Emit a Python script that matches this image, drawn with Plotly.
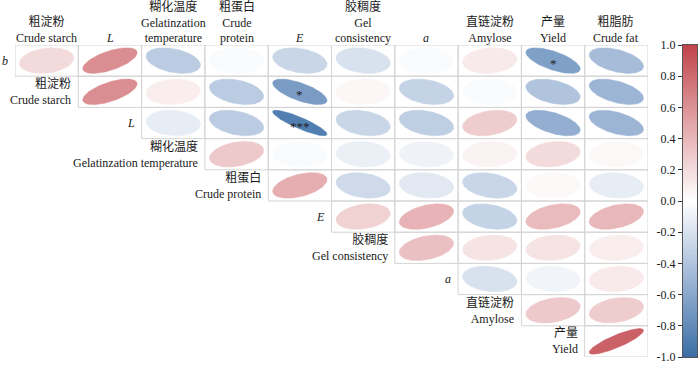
import numpy as np
import plotly.graph_objects as go
from plotly.colors import sample_colorscale

# ---------------- data ----------------
col_labels = ["粗淀粉<br>Crude starch", "<i>L</i>", "糊化温度<br>Gelatinzation<br>temperature",
              "粗蛋白<br>Crude<br>protein", "<i>E</i>", "胶稠度<br>Gel<br>consistency",
              "<i>a</i>", "直链淀粉<br>Amylose", "产量<br>Yield", "粗脂肪<br>Crude fat"]
row_labels = ["<i>b</i>", "粗淀粉<br>Crude starch", "<i>L</i>", "糊化温度<br>Gelatinzation temperature",
              "粗蛋白<br>Crude protein", "<i>E</i>", "胶稠度<br>Gel consistency", "<i>a</i>",
              "直链淀粉<br>Amylose", "产量<br>Yield"]

corr_b = [0.20, 0.62, -0.35, -0.03, -0.28, -0.20, -0.03, 0.12, -0.65, -0.45]
corr_starch = [0.62, 0.10, -0.35, -0.68, 0.05, -0.30, -0.03, -0.40, -0.50]
corr_L = [-0.12, -0.35, -0.88, -0.28, -0.33, 0.28, -0.55, -0.50]
corr_gel_temp = [0.30, -0.03, -0.10, -0.08, 0.07, 0.20, 0.04]
corr_protein = [0.45, -0.25, -0.15, -0.28, 0.04, -0.12]
corr_E = [0.25, 0.42, -0.30, 0.38, 0.40]
corr_gc = [0.35, 0.15, 0.15, 0.10]
corr_a = [-0.20, -0.07, 0.12]
corr_amylose = [0.30, 0.28]
corr_yield = [0.85]
corr_rows = [corr_b, corr_starch, corr_L, corr_gel_temp, corr_protein,
             corr_E, corr_gc, corr_a, corr_amylose, corr_yield]

sig_rows = [0, 1, 2]
sig_cols = [8, 4, 4]
sig_marks = ["*", "*", "***"]

cbar_ticks = [1.0, 0.8, 0.6, 0.4, 0.2, 0.0, -0.2, -0.4, -0.6, -0.8, -1.0]

# ---------------- style ----------------
colorscale = [[0.0, "#3a6ea5"], [0.25, "#9db5d5"], [0.5, "#ffffff"],
              [0.75, "#e2a5a8"], [1.0, "#c0444b"]]
FONT = "Liberation Serif, Times New Roman, Noto Sans CJK SC, serif"
TXT = "#1a1a1a"
SX, SY = 0.43, 0.41

fig = go.Figure()
shapes = []
t = np.linspace(0, 2 * np.pi, 120)
for i, row in enumerate(corr_rows):
    for k, r in enumerate(row):
        j = i + k
        shapes.append(dict(type="rect", xref="x", yref="y", x0=j - 0.5, x1=j + 0.5,
                           y0=i - 0.5, y1=i + 0.5, line=dict(color="#d4d4d4", width=1),
                           layer="below"))
        d = np.arccos(r)
        ex = j + SX * np.cos(t + d / 2)
        ey = i - SY * np.cos(t - d / 2)
        c = sample_colorscale(colorscale, [(r + 1) / 2])[0]
        fig.add_trace(go.Scatter(x=ex, y=ey, mode="lines", fill="toself", fillcolor=c,
                                 line=dict(color=c, width=0.5), hoverinfo="skip",
                                 showlegend=False, xaxis="x", yaxis="y"))

annotations = []
for si, sj, sm in zip(sig_rows, sig_cols, sig_marks):
    annotations.append(dict(x=sj, y=si, xref="x", yref="y", text=sm, showarrow=False,
                            font=dict(family=FONT, size=13, color="#222"), yshift=-3))

for j, lab in enumerate(col_labels):
    annotations.append(dict(x=j, y=-0.5, xref="x", yref="y", text=lab, showarrow=False,
                            xanchor="center", yanchor="bottom", yshift=-1, borderpad=0,
                            font=dict(family=FONT, size=12, color=TXT)))
for i, lab in enumerate(row_labels):
    annotations.append(dict(x=i - 0.5, y=i, xref="x", yref="y", text=lab, showarrow=False,
                            xanchor="right", yanchor="middle", xshift=-6, align="right",
                            borderpad=0, font=dict(family=FONT, size=12, color=TXT)))

# colour bar drawn as a heatmap on its own axis
zv = np.linspace(-1, 1, 201)
fig.add_trace(go.Heatmap(z=zv.reshape(-1, 1), y=zv, x=[0], colorscale=colorscale,
                         zmin=-1, zmax=1, showscale=False, hoverinfo="skip",
                         xaxis="x2", yaxis="y2"))

W_PLOT = 682.0
fig.update_layout(
    width=700, height=367,
    margin=dict(l=15, r=3, t=45, b=10),
    paper_bgcolor="white", plot_bgcolor="white",
    xaxis=dict(domain=[0, 633 / W_PLOT], range=[-0.5, 9.5], visible=False),
    yaxis=dict(range=[9.5, -0.5], visible=False),
    xaxis2=dict(domain=[668 / W_PLOT, 1], anchor="y2", range=[-0.5, 0.5],
                showticklabels=False, ticks="", showgrid=False, zeroline=False,
                showline=True, mirror=True, linecolor="#555", linewidth=1),
    yaxis2=dict(domain=[0, 1], anchor="x2", range=[-1, 1], side="left",
                tickvals=cbar_ticks, ticktext=[f"{v:.1f}" for v in cbar_ticks],
                ticks="outside", ticklen=4, tickcolor="#333", showgrid=False,
                zeroline=False, showline=True, mirror=True, linecolor="#555", linewidth=1,
                tickfont=dict(family=FONT, size=12, color=TXT)),
    shapes=shapes,
    annotations=annotations,
)

fig.write_html("out.html")
